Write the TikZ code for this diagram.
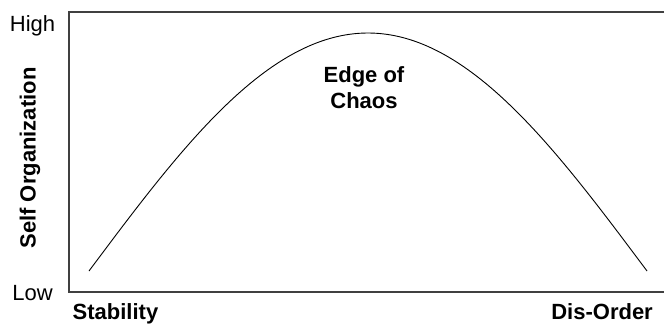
\documentclass[tikz,border=0pt]{standalone}
\usepackage{fontspec}
\setmainfont{Liberation Sans}
\usetikzlibrary{positioning}
\definecolor{caxis}{HTML}{404040}
\tikzset{
  every picture/.style={font=\fontsize{22}{26}\selectfont},
  axisline/.style={draw=caxis, line width=1.5pt},
  curveline/.style={draw=black, line width=0.9pt},
  lbl/.style={inner sep=0pt},
  heading/.style={font=\fontsize{22}{26}\selectfont\bfseries, inner sep=0pt, align=center},
}
\begin{document}
\begin{tikzpicture}[x=1pt, y=-1pt]
  \useasboundingbox (0,0) rectangle (665,325);
  \coordinate (tl) at (69,12);
  \coordinate (tr) at (664,12);
  \coordinate (bl) at (69,292);
  \coordinate (br) at (664,292);
  \draw[axisline] (tr) -- (tl) -- (bl) -- (br);
  % the hump
  \coordinate (left) at (89,271);
  \coordinate (top) at (368,33);
  \coordinate (right) at (647,271);
  \draw[curveline] (left) sin (top) cos (right);
  \node[lbl, anchor=base] (high) at (32.5,31.7) {High};
  \node[lbl, anchor=base] (low) at (32.5,300) {Low};
  \node[heading, anchor=base west] (stab) at (72.5,319) {Stability};
  \node[heading, anchor=base east] (dis) at (653,319) {Dis-Order};
  \node[heading, rotate=90] (selforg) at (30,158) {Self Organization};
  \node[heading] (edge) at (364,87.5) {Edge of\\Chaos};
\end{tikzpicture}
\end{document}
